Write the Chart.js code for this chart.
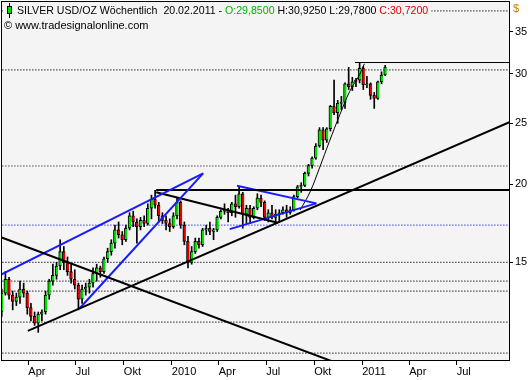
<!DOCTYPE html>
<html><head><meta charset="utf-8">
<script src="https://cdn.jsdelivr.net/npm/chart.js@4.4.1/dist/chart.umd.min.js"></script>
<style>html,body{margin:0;padding:0;background:#fff;overflow:hidden}#wrap{width:531px;height:380px}</style>
</head><body><div id="wrap"><canvas id="c" width="531" height="380"></canvas></div>
<script>
// ---------- DATA ----------
const weeks = [
'2009-02-09','2009-02-16','2009-02-23','2009-03-02','2009-03-09','2009-03-16','2009-03-23','2009-03-30',
'2009-04-06','2009-04-13','2009-04-20','2009-04-27','2009-05-04','2009-05-11','2009-05-18','2009-05-25',
'2009-06-01','2009-06-08','2009-06-15','2009-06-22','2009-06-29','2009-07-06','2009-07-13','2009-07-20',
'2009-07-27','2009-08-03','2009-08-10','2009-08-17','2009-08-24','2009-08-31','2009-09-07','2009-09-14',
'2009-09-21','2009-09-28','2009-10-05','2009-10-12','2009-10-19','2009-10-26','2009-11-02','2009-11-09',
'2009-11-16','2009-11-23','2009-11-30','2009-12-07','2009-12-14','2009-12-21','2009-12-28',
'2010-01-04','2010-01-11','2010-01-18','2010-01-25','2010-02-01','2010-02-08','2010-02-15','2010-02-22',
'2010-03-01','2010-03-08','2010-03-15','2010-03-22','2010-03-29','2010-04-05','2010-04-12','2010-04-19',
'2010-04-26','2010-05-03','2010-05-10','2010-05-17','2010-05-24','2010-05-31','2010-06-07','2010-06-14',
'2010-06-21','2010-06-28','2010-07-05','2010-07-12','2010-07-19','2010-07-26','2010-08-02','2010-08-09',
'2010-08-16','2010-08-23','2010-08-30','2010-09-06','2010-09-13','2010-09-20','2010-09-27','2010-10-04',
'2010-10-11','2010-10-18','2010-10-25','2010-11-01','2010-11-08','2010-11-15','2010-11-22','2010-11-29',
'2010-12-06','2010-12-13','2010-12-20','2010-12-27',
'2011-01-03','2011-01-10','2011-01-17','2011-01-24','2011-01-31','2011-02-07','2011-02-14'];
const opens = [
12.5,13.4,14.1,13.3,13.0,13.2,13.6,13.4,12.7,12.3,12.0,12.4,12.5,13.3,14.0,14.3,
14.8,15.6,15.0,14.5,14.1,13.8,13.1,13.6,13.7,13.9,14.4,14.7,14.5,15.2,15.6,16.1,
16.9,16.6,16.3,17.0,17.8,17.4,17.1,17.5,17.3,18.3,18.9,18.5,17.8,17.5,17.3,
17.1,17.8,18.7,17.2,16.2,15.0,15.6,16.2,16.0,16.9,17.0,16.8,16.9,17.7,18.1,18.2,
18.0,18.6,18.4,19.3,17.9,18.3,17.7,18.3,19.0,18.7,17.7,18.0,17.7,17.9,18.0,18.2,
18.0,18.2,19.1,19.8,19.9,20.8,21.4,22.0,23.0,24.4,23.5,24.5,26.6,26.0,26.9,27.0,
28.9,28.6,29.1,29.3,
30.6,28.8,28.9,27.7,27.4,29.1,29.85];
const highs = [
13.6,14.5,14.2,13.5,13.4,14.0,13.9,13.5,12.9,12.5,12.5,12.6,13.5,14.1,14.9,15.0,
16.3,15.9,15.3,14.9,14.6,13.9,13.8,13.9,14.1,14.7,14.9,14.8,15.3,15.8,16.3,17.2,
17.4,16.8,17.2,18.0,18.1,17.6,17.7,17.8,18.6,19.2,19.55,18.7,18.0,17.8,17.6,
18.0,19.0,18.8,17.4,16.5,15.9,16.4,16.4,17.0,17.2,17.4,17.0,17.8,18.2,18.6,18.3,
18.7,19.2,19.8,19.4,18.5,18.5,18.4,19.3,19.2,18.8,18.2,18.5,18.2,18.2,18.4,18.5,
18.4,19.2,19.9,20.1,20.9,21.5,22.1,23.2,24.6,24.6,24.6,26.7,29.3,27.2,27.6,29.0,
30.7,29.6,29.5,31.2,
30.8,29.7,29.0,28.0,29.2,30.2,30.925];
const lows = [
12.3,13.3,13.1,12.6,12.8,12.9,13.2,12.4,12.1,11.9,11.6,12.1,12.4,13.1,13.8,14.1,
14.6,14.6,14.3,13.9,13.6,12.6,12.9,13.3,13.4,13.7,14.0,14.2,14.4,15.0,15.4,15.8,
16.4,16.0,16.2,16.9,17.1,16.1,16.9,17.1,17.2,17.6,18.3,17.4,17.3,16.9,16.8,
17.0,17.6,17.0,16.0,14.7,14.9,15.5,15.8,15.9,16.6,16.6,16.3,16.8,17.6,17.9,17.4,
17.8,17.7,18.3,17.0,17.3,17.3,17.6,18.2,18.4,17.5,17.4,17.6,17.4,17.4,17.9,17.7,
17.9,18.1,19.0,19.4,19.8,20.6,21.2,21.9,22.9,22.7,23.3,24.3,25.8,25.0,26.3,26.4,
28.3,28.2,28.6,29.0,
28.3,28.5,27.3,26.4,27.3,28.9,29.78];
const closes = [
13.4,14.1,13.3,13.0,13.2,13.6,13.4,12.7,12.3,12.0,12.4,12.5,13.3,14.0,14.3,14.8,
15.6,15.0,14.5,14.1,13.8,13.1,13.6,13.7,13.9,14.4,14.7,14.5,15.2,15.6,16.1,16.9,
16.6,16.3,17.0,17.8,17.4,17.1,17.5,17.3,18.3,18.9,18.5,17.8,17.5,17.3,17.1,
17.8,18.7,17.2,16.2,15.0,15.6,16.2,16.0,16.9,17.0,16.8,16.9,17.7,18.1,18.2,18.0,
18.6,18.4,19.3,17.9,18.3,17.7,18.3,19.0,18.7,17.7,18.0,17.7,17.9,18.0,18.2,18.0,
18.2,19.1,19.8,19.9,20.8,21.4,22.0,23.0,24.4,23.5,24.5,26.6,26.0,26.9,27.0,28.9,
28.6,29.1,29.3,30.6,
28.8,28.9,27.7,27.4,29.1,29.85,30.72];

const tickDates  = ['2009-04-01','2009-07-01','2009-10-01','2010-01-01','2010-04-01','2010-07-01','2010-10-01','2011-01-01','2011-04-01','2011-07-01'];
const tickLabels = ['Apr','Jul','Okt','2010','Apr','Jul','Okt','2011','Apr','Jul'];
const yTicks = [15, 20, 25, 30, 35];

const headerTitle = 'SILVER USD/OZ Wöchentlich';
const headerDate = '20.02.2011';
const copyright = '© www.tradesignalonline.com';
const axisUnit = '$';

// drawn analysis lines (dates / prices)
const trendDownDates = ['2009-02-05','2010-11-19'];   const trendDownPrices = [16.48, 10.32];
const trendUpDates = ['2009-03-31','2011-10-18'];     const trendUpPrices = [11.66, 25.27];
const channelTopDates = ['2009-02-05','2010-03-02'];  const channelTopPrices = [14.31, 20.80];
const channelBotDates = ['2009-07-08','2010-03-02'];  const channelBotPrices = [12.66, 20.80];
const resistDates = ['2009-12-02','2010-07-23'];      const resistPrices = [19.40, 17.35];
const levelLowDates = ['2009-12-02','2011-12-31'];    const levelLowPrices = [19.56, 19.56];
const levelHighDates = ['2010-12-18','2011-12-31'];   const levelHighPrices = [31.25, 31.25];
const triTopDates = ['2010-05-06','2010-10-05'];      const triTopPrices = [19.88, 18.63];
const triBotDates = ['2010-04-22','2010-10-05'];      const triBotPrices = [16.95, 18.63];
const curveDates = ['2010-09-04','2010-09-23','2010-10-11','2010-10-30','2010-11-19','2010-12-08','2010-12-27','2011-01-05'];
const curvePrices = [18.18, 19.43, 21.21, 23.38, 25.79, 28.11, 29.90, 31.10];
const dottedLevels = [37.78, 30.41, 21.37, 15.0, 14.0, 13.5, 12.04, 10.75];
const blueDottedLevels = [17.2];
const dottedSpan = ['2009-01-01','2011-12-31'];

// ---------- CHART ----------
const dayOf = s => Math.round((Date.parse(s) - Date.parse('2009-01-01')) / 864e5);
const GREEN = '#00e000', RED = '#e00000', BLUE = '#1a1aff', PLOT_BG = '#f4f4f4';
const FONT = '"Liberation Sans", Arial, sans-serif';

const wickData = weeks.map((w, i) => ({x: dayOf(w), y: [lows[i], highs[i]]}));
const bodyData = weeks.map((w, i) => ({x: dayOf(w), y: [opens[i], closes[i]]}));
const bodyColors = opens.map((o, i) => closes[i] >= o ? GREEN : RED);

function seg(dates, prices, color, width, extra) {
  return Object.assign({
    type: 'line', data: dates.map((d, i) => ({x: dayOf(d), y: prices[i]})),
    borderColor: color, borderWidth: width, pointRadius: 0, fill: false, tension: 0, order: 0
  }, extra || {});
}
const lineSets = [];
dottedLevels.forEach(v => lineSets.push(seg(dottedSpan, [v, v], '#000', 1.2, {borderDash: [1, 2], order: 5})));
blueDottedLevels.forEach(v => lineSets.push(seg(dottedSpan, [v, v], BLUE, 1.2, {borderDash: [1, 2], order: 5})));
lineSets.push(seg(trendDownDates, trendDownPrices, '#000', 2));
lineSets.push(seg(trendUpDates, trendUpPrices, '#000', 2));
lineSets.push(seg(channelTopDates, channelTopPrices, BLUE, 2));
lineSets.push(seg(channelBotDates, channelBotPrices, BLUE, 2));
lineSets.push(seg(resistDates, resistPrices, '#000', 2));
lineSets.push(seg(levelLowDates, levelLowPrices, '#000', 2));
lineSets.push(seg(levelHighDates, levelHighPrices, '#000', 1));
lineSets.push(seg(triTopDates, triTopPrices, BLUE, 2));
lineSets.push(seg(triBotDates, triBotPrices, BLUE, 2));
lineSets.push(seg(curveDates, curvePrices, '#000', 1, {tension: 0.4}));

const fmt = v => v.toFixed(4).replace('.', ',');
const decor = {
  id: 'decor',
  beforeDraw(chart) {
    const {ctx, chartArea: a} = chart;
    ctx.save();
    ctx.fillStyle = '#fff'; ctx.fillRect(0, 0, chart.width, chart.height);
    ctx.fillStyle = PLOT_BG; ctx.fillRect(a.left, a.top, a.right - a.left, a.bottom - a.top);
    ctx.restore();
  },
  afterDatasetsDraw(chart) {
    const {ctx} = chart;
    const n = closes.length - 1;
    ctx.save();
    ctx.font = '10.6px ' + FONT; ctx.textBaseline = 'middle'; ctx.textAlign = 'left';
    const segs = [
      [headerTitle + '  ' + headerDate + ' - ', '#000'],
      ['O:' + fmt(opens[n]), '#00b400'],
      [' H:' + fmt(highs[n]) + ' L:' + fmt(lows[n]) + ' ', '#000'],
      ['C:' + fmt(closes[n]), '#e00000']];
    let total = 0; segs.forEach(s => total += ctx.measureText(s[0]).width);
    ctx.fillStyle = PLOT_BG; ctx.fillRect(3, 3, 17 + total, 16);
    // candle icon
    ctx.fillStyle = '#000'; ctx.fillRect(9, 3, 1, 15);
    ctx.fillStyle = GREEN; ctx.fillRect(7, 6, 5, 8);
    ctx.strokeStyle = '#000'; ctx.lineWidth = 1; ctx.strokeRect(7.5, 6.5, 4, 7);
    let x = 17;
    segs.forEach(s => { ctx.fillStyle = s[1]; ctx.fillText(s[0], x, 11); x += ctx.measureText(s[0]).width; });
    ctx.font = '11px ' + FONT;
    ctx.fillStyle = '#000'; ctx.fillText(copyright, 4, 26);
    ctx.restore();
  },
  afterDraw(chart) {
    const {ctx, chartArea: a} = chart;
    ctx.save();
    ctx.strokeStyle = '#000'; ctx.lineWidth = 1;
    ctx.strokeRect(a.left - 0.5, a.top - 0.5, a.right - a.left + 1, a.bottom - a.top + 1);
    ctx.font = '11px ' + FONT; ctx.textBaseline = 'middle'; ctx.fillStyle = '#c87800';
    ctx.fillText(axisUnit, a.right + 4, 9);
    ctx.restore();
  }
};

function noPad(s) { s.paddingTop = 0; s.paddingBottom = 0; s.paddingLeft = 0; s.paddingRight = 0; }

new Chart(document.getElementById('c'), {
  type: 'bar',
  data: {
    datasets: [
      {type: 'bar', data: wickData, backgroundColor: '#000', barThickness: 1, grouped: false, order: 2},
      {type: 'bar', data: bodyData, backgroundColor: bodyColors, borderColor: '#000',
       borderWidth: {left: 1, right: 0, top: 1, bottom: 1}, borderSkipped: false,
       barThickness: 3, grouped: false, order: 1}
    ].concat(lineSets)
  },
  options: {
    responsive: false, animation: false, devicePixelRatio: 1, events: [],
    layout: {padding: {left: 2, top: 2, right: 0, bottom: 0}},
    plugins: {legend: {display: false}, tooltip: {enabled: false}},
    scales: {
      x: {
        type: 'linear', min: 39.5, max: 1011.3, bounds: 'data', offset: false,
        afterFit(s) { s.height = 20; noPad(s); },
        afterBuildTicks(s) { s.ticks = tickDates.map(d => ({value: dayOf(d)})); },
        ticks: {autoSkip: false, maxRotation: 0, align: 'start', padding: 0, color: '#000',
                font: {family: FONT, size: 11}, callback: (v, i) => tickLabels[i]},
        grid: {drawOnChartArea: false, drawTicks: true, tickLength: 5, tickColor: '#000', offset: false},
        border: {display: false}
      },
      y: {
        type: 'logarithmic', position: 'right', min: 10.48, max: 39.03, bounds: 'data',
        afterFit(s) { s.width = 22; noPad(s); },
        afterBuildTicks(s) { s.ticks = yTicks.map(v => ({value: v})); },
        ticks: {autoSkip: false, padding: 2, color: '#000', font: {family: FONT, size: 11},
                callback: v => String(v)},
        grid: {drawOnChartArea: false, drawTicks: true, tickLength: 4, tickColor: '#000'},
        border: {display: false}
      }
    }
  },
  plugins: [decor]
});
</script>
</body></html>
